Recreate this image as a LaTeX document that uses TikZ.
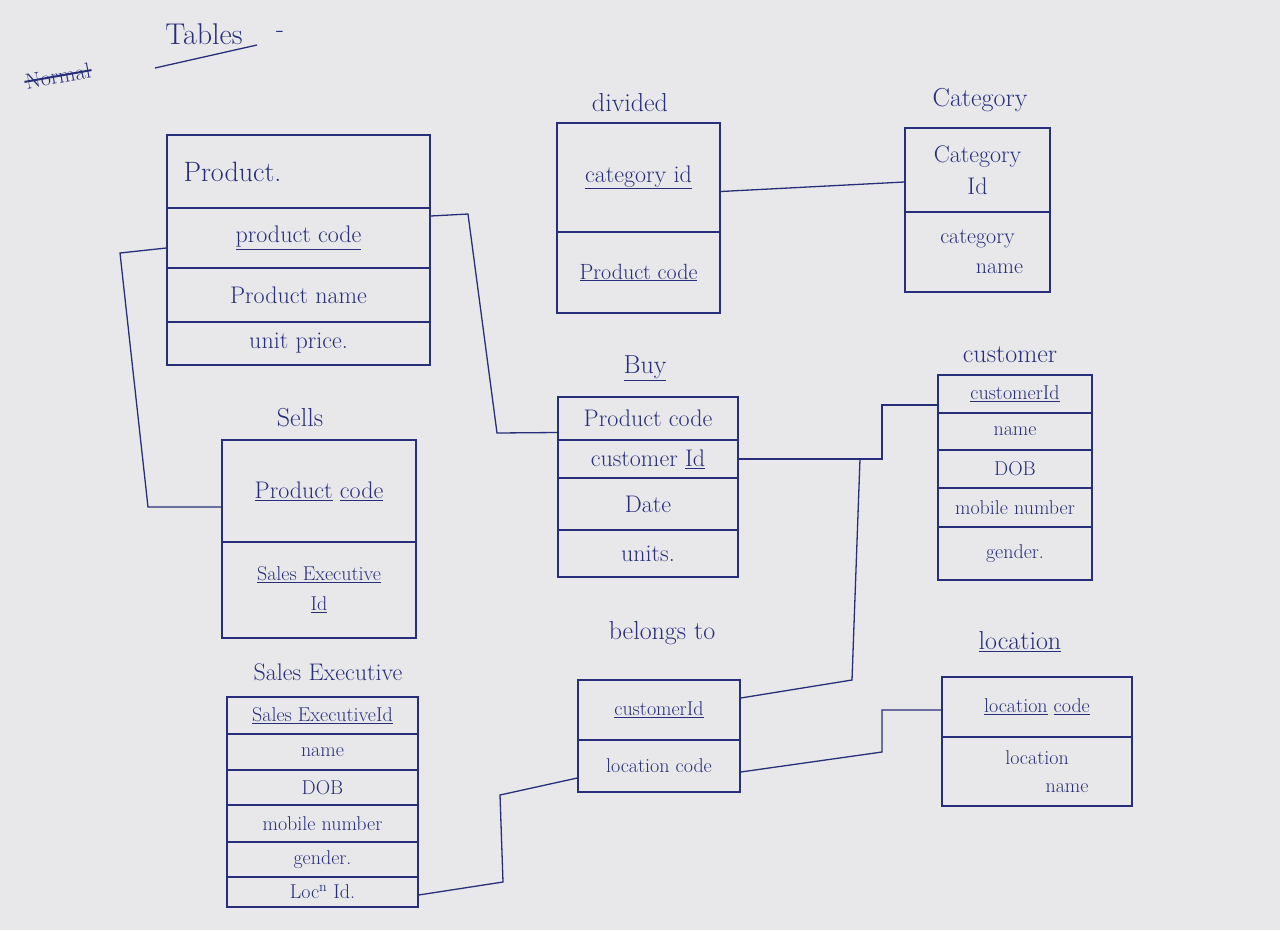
\documentclass[tikz,border=0pt]{standalone}
\usepackage{fontspec}
\begin{document}
\definecolor{ink}{RGB}{40,46,122}
\definecolor{paper}{RGB}{232,232,234}
\tikzset{
  row/.style={draw=ink, line width=1.4pt, rectangle, inner sep=2pt, text=ink, align=center, font=\fontsize{24}{30}\selectfont},
  smallrow/.style={row, font=\fontsize{20}{25}\selectfont},
  ttl/.style={text=ink, font=\fontsize{26}{30}\selectfont, inner sep=1pt},
  link/.style={draw=ink, line width=1.3pt},
}
\begin{tikzpicture}[x=1pt,y=-1pt]
\fill[paper] (0,0) rectangle (1280,930);
\useasboundingbox (0,0) rectangle (1280,930);

% heading
\node[ttl, rotate=10, font=\fontsize{22}{26}\selectfont] (nm) at (58,76) {Normal};
\draw[link, line width=2pt] (nm.west) -- (nm.east);
\node[ttl, font=\fontsize{30}{34}\selectfont] (tb) at (204,34) {Tables};
\node[ttl] (dash) at (280,34) {-};
\draw[link] (155,68) -- (257,45);

% Product
\node[row, minimum width=263pt, minimum height=73pt, text width=230pt, align=left, font=\fontsize{28}{32}\selectfont] (p1) at (298.5,171.5) {Product.};
\node[row, minimum width=263pt, minimum height=60pt] (p2) at (298.5,238) {\underline{product code}};
\node[row, minimum width=263pt, minimum height=54pt] (p3) at (298.5,295) {Product name};
\node[row, minimum width=263pt, minimum height=43pt] (p4) at (298.5,343.5) {unit price.};

% divided
\node[ttl] (dt) at (630,103) {divided};
\node[row, minimum width=163pt, minimum height=109pt] (d1) at (638.5,177.5) {\underline{category id}};
\node[row, minimum width=163pt, minimum height=81pt, font=\fontsize{22}{26}\selectfont] (d2) at (638.5,272.5) {\underline{Product code}};

% Category
\node[ttl] (ct) at (980,100) {Category};
\node[row, minimum width=145pt, minimum height=84pt, font=\fontsize{24}{32}\selectfont] (c1) at (977.5,170) {Category\\Id};
\node[row, minimum width=145pt, minimum height=80pt, font=\fontsize{22}{30}\selectfont] (c2) at (977.5,252) {category\\\hspace*{2em}name};

% Buy
\node[ttl] (byt) at (645,368) {\underline{Buy}};
\node[row, minimum width=180pt, minimum height=43pt] (b1) at (648,418.5) {Product code};
\node[row, minimum width=180pt, minimum height=38pt] (b2) at (648,459) {customer \underline{Id}};
\node[row, minimum width=180pt, minimum height=52pt] (b3) at (648,504) {Date};
\node[row, minimum width=180pt, minimum height=47pt] (b4) at (648,553.5) {units.};

% customer
\node[ttl] (cut) at (1010,355) {customer};
\node[smallrow, minimum width=154pt, minimum height=38pt] (cu1) at (1015,394) {\underline{customerId}};
\node[smallrow, minimum width=154pt, minimum height=37pt] (cu2) at (1015,431.5) {name};
\node[smallrow, minimum width=154pt, minimum height=38pt] (cu3) at (1015,469) {DOB};
\node[smallrow, minimum width=154pt, minimum height=39pt] (cu4) at (1015,507.5) {mobile number};
\node[smallrow, minimum width=154pt, minimum height=53pt] (cu5) at (1015,553.5) {gender.};

% Sells
\node[ttl] (st) at (300,418) {Sells};
\node[row, minimum width=194pt, minimum height=102pt] (s1) at (319,491) {\underline{Product} \underline{code}};
\node[smallrow, minimum width=194pt, minimum height=96pt, font=\fontsize{20}{30}\selectfont] (s2) at (319,590) {\underline{Sales Executive}\\\underline{Id}};

% Sales Executive
\node[ttl, font=\fontsize{24}{28}\selectfont] (set) at (328,672) {Sales Executive};
\node[smallrow, minimum width=191pt, minimum height=37pt] (se1) at (322.5,715.5) {\underline{Sales ExecutiveId}};
\node[smallrow, minimum width=191pt, minimum height=36pt] (se2) at (322.5,752) {name};
\node[smallrow, minimum width=191pt, minimum height=35pt] (se3) at (322.5,787.5) {DOB};
\node[smallrow, minimum width=191pt, minimum height=37pt] (se4) at (322.5,823.5) {mobile number};
\node[smallrow, minimum width=191pt, minimum height=35pt] (se5) at (322.5,859.5) {gender.};
\node[smallrow, minimum width=191pt, minimum height=30pt] (se6) at (322.5,892) {Loc\textsuperscript{n} Id.};

% belongs to
\node[ttl] (btt) at (662,633) {belongs to};
\node[smallrow, minimum width=162pt, minimum height=60pt] (bt1) at (659,710) {\underline{customerId}};
\node[smallrow, minimum width=162pt, minimum height=52pt] (bt2) at (659,766) {location code};

% location
\node[ttl] (lot) at (1020,642) {\underline{location}};
\node[smallrow, minimum width=190pt, minimum height=60pt] (lo1) at (1037,707) {\underline{location} \underline{code}};
\node[smallrow, minimum width=190pt, minimum height=69pt, font=\fontsize{20}{28}\selectfont] (lo2) at (1037,771.5) {location\\\hspace*{3em}name};

% connectors
\draw[link] ([yshift=-14pt]d1.east) -- ([yshift=-12pt]c1.west);
\draw[link] ([yshift=22pt]p2.east) -- (468,214) -- (497,433) -- ([yshift=-14pt]b1.west);
\draw[link] ([yshift=-10pt]p2.west) -- (120,253) -- (148,507) -- ([yshift=-16pt]s1.west);
\draw[link] (b2.east) -- (882,459) -- (882,405) -- ([yshift=-11pt]cu1.west);
\draw[link] (b2.east) -- (860,459) -- (852,680) -- ([yshift=12pt]bt1.east);
\draw[link] ([yshift=-6pt]bt2.east) -- (882,752) -- (882,710) -- ([yshift=-3pt]lo1.west);
\draw[link] ([yshift=-12pt]bt2.west) -- (500,795) -- (503,882) -- ([yshift=-3pt]se6.east);
\end{tikzpicture}
\end{document}
